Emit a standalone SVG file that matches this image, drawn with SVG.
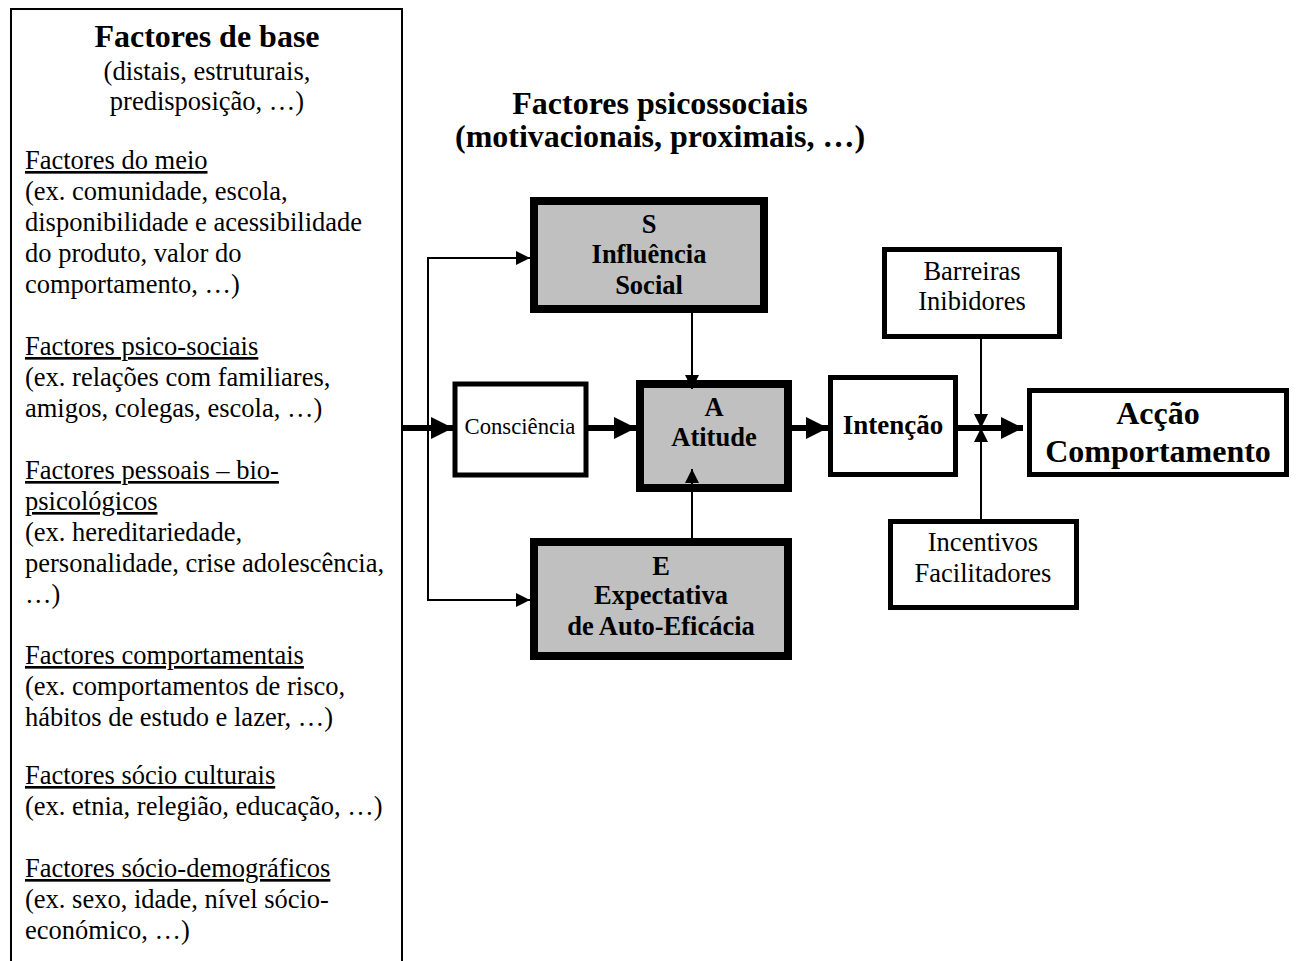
<svg xmlns="http://www.w3.org/2000/svg" width="1297" height="961" viewBox="0 0 1297 961">
<defs>
<style>
text{font-family:"Liberation Serif","Times New Roman",serif;fill:#000}
.b{font-weight:bold}
.mid{text-anchor:middle}
.u{text-decoration:underline}
.lt{font-size:26.5px}
.gray{fill:#c0c0c0;stroke:#000;stroke-width:8}
.wb{fill:#fff;stroke:#000;stroke-width:5}
.thick{stroke:#000;stroke-width:6;fill:none}
.thin{stroke:#000;stroke-width:2;fill:none}
</style>
<marker id="ah" markerUnits="userSpaceOnUse" markerWidth="22" markerHeight="22" refX="22" refY="11" orient="auto"><path d="M0,0 L22,11 L0,22 z" fill="#000"/></marker>
<marker id="as" markerUnits="userSpaceOnUse" markerWidth="14" markerHeight="14" refX="14" refY="7" orient="auto"><path d="M0,0 L14,7 L0,14 z" fill="#000"/></marker>
</defs>
<rect width="1297" height="961" fill="#fff"/>

<g id="base">
<path d="M11,970 V9 H402 V970" fill="none" stroke="#000" stroke-width="2"/>
<text x="207" y="47" class="b mid" font-size="32">Factores de base</text>
<text x="207" y="80" class="mid lt">(distais, estruturais,</text>
<text x="207" y="110" class="mid lt">predisposição, …)</text>
<g class="lt">
<text x="25" y="169" class="u">Factores do meio</text>
<text x="25" y="200">(ex. comunidade, escola,</text>
<text x="25" y="231">disponibilidade e acessibilidade</text>
<text x="25" y="262">do produto, valor do</text>
<text x="25" y="293">comportamento, …)</text>
<text x="25" y="355" class="u">Factores psico-sociais</text>
<text x="25" y="386">(ex. relações com familiares,</text>
<text x="25" y="417">amigos, colegas, escola, …)</text>
<text x="25" y="479" class="u">Factores pessoais – bio-</text>
<text x="25" y="510" class="u">psicológicos</text>
<text x="25" y="541">(ex. hereditariedade,</text>
<text x="25" y="572">personalidade, crise adolescência,</text>
<text x="25" y="603">…)</text>
<text x="25" y="664" class="u">Factores comportamentais</text>
<text x="25" y="695">(ex. comportamentos de risco,</text>
<text x="25" y="726">hábitos de estudo e lazer, …)</text>
<text x="25" y="784" class="u">Factores sócio culturais</text>
<text x="25" y="815">(ex. etnia, relegião, educação, …)</text>
<text x="25" y="877" class="u">Factores sócio-demográficos</text>
<text x="25" y="908">(ex. sexo, idade, nível sócio-</text>
<text x="25" y="939">económico, …)</text>
</g>
</g>

<g id="title">
<text x="660" y="114" class="b mid" font-size="32">Factores psicossociais</text>
<text x="660" y="147" class="b mid" font-size="32">(motivacionais, proximais, …)</text>
</g>

<g id="connectors">
<line x1="402" y1="428" x2="453" y2="428" class="thick" marker-end="url(#ah)"/>
<polyline points="530,258 428,258 428,600 530,600" class="thin"/>
<line x1="428" y1="258" x2="530" y2="258" class="thin" marker-end="url(#as)"/>
<line x1="428" y1="600" x2="530" y2="600" class="thin" marker-end="url(#as)"/>
<line x1="588" y1="428" x2="636" y2="428" class="thick" marker-end="url(#ah)"/>
<line x1="792" y1="428" x2="828" y2="428" class="thick" marker-end="url(#ah)"/>
<line x1="958" y1="428" x2="1023" y2="428" class="thick" marker-end="url(#ah)"/>
<line x1="981" y1="339" x2="981" y2="428" class="thin" marker-end="url(#as)"/>
<line x1="981" y1="519" x2="981" y2="428" class="thin" marker-end="url(#as)"/>
</g>

<g id="consciencia">
<rect x="455" y="384" width="131" height="91" class="wb"/>
<text x="520" y="434" class="mid" font-size="22.7">Consciência</text>
</g>

<g id="social">
<rect x="534" y="201" width="230" height="108" class="gray"/>
<text class="b mid" font-size="26.5"><tspan x="649" y="233">S</tspan><tspan x="649" y="263">Influência</tspan><tspan x="649" y="294">Social</tspan></text>
</g>

<g id="atitude">
<rect x="640" y="384" width="148" height="104" class="gray"/>
<text class="b mid" font-size="26.5"><tspan x="714" y="416">A</tspan><tspan x="714" y="446">Atitude</tspan></text>
</g>

<g id="expectativa">
<rect x="534" y="542" width="254" height="114" class="gray"/>
<text class="b mid" font-size="26.5"><tspan x="661" y="575">E</tspan><tspan x="661" y="604">Expectativa</tspan><tspan x="661" y="635">de Auto-Eficácia</tspan></text>
</g>

<g id="sa-arrows">
<line x1="692" y1="313" x2="692" y2="389" class="thin" marker-end="url(#as)"/>
<line x1="692" y1="538" x2="692" y2="469" class="thin" marker-end="url(#as)"/>
</g>

<g id="intencao">
<rect x="830.5" y="377.5" width="125" height="97" class="wb"/>
<text x="893" y="434" class="b mid" font-size="27">Intenção</text>
</g>

<g id="barreiras">
<rect x="884.5" y="249.5" width="175" height="87" class="wb"/>
<text class="mid lt"><tspan x="972" y="280">Barreiras</tspan><tspan x="972" y="310">Inibidores</tspan></text>
</g>

<g id="incentivos">
<rect x="890.5" y="521.5" width="186" height="86" class="wb"/>
<text class="mid lt"><tspan x="983" y="551">Incentivos</tspan><tspan x="983" y="582">Facilitadores</tspan></text>
</g>

<g id="accao">
<rect x="1029.5" y="390.5" width="257" height="84" class="wb"/>
<text class="b mid" font-size="32"><tspan x="1158" y="424">Acção</tspan><tspan x="1158" y="462">Comportamento</tspan></text>
</g>
</svg>
